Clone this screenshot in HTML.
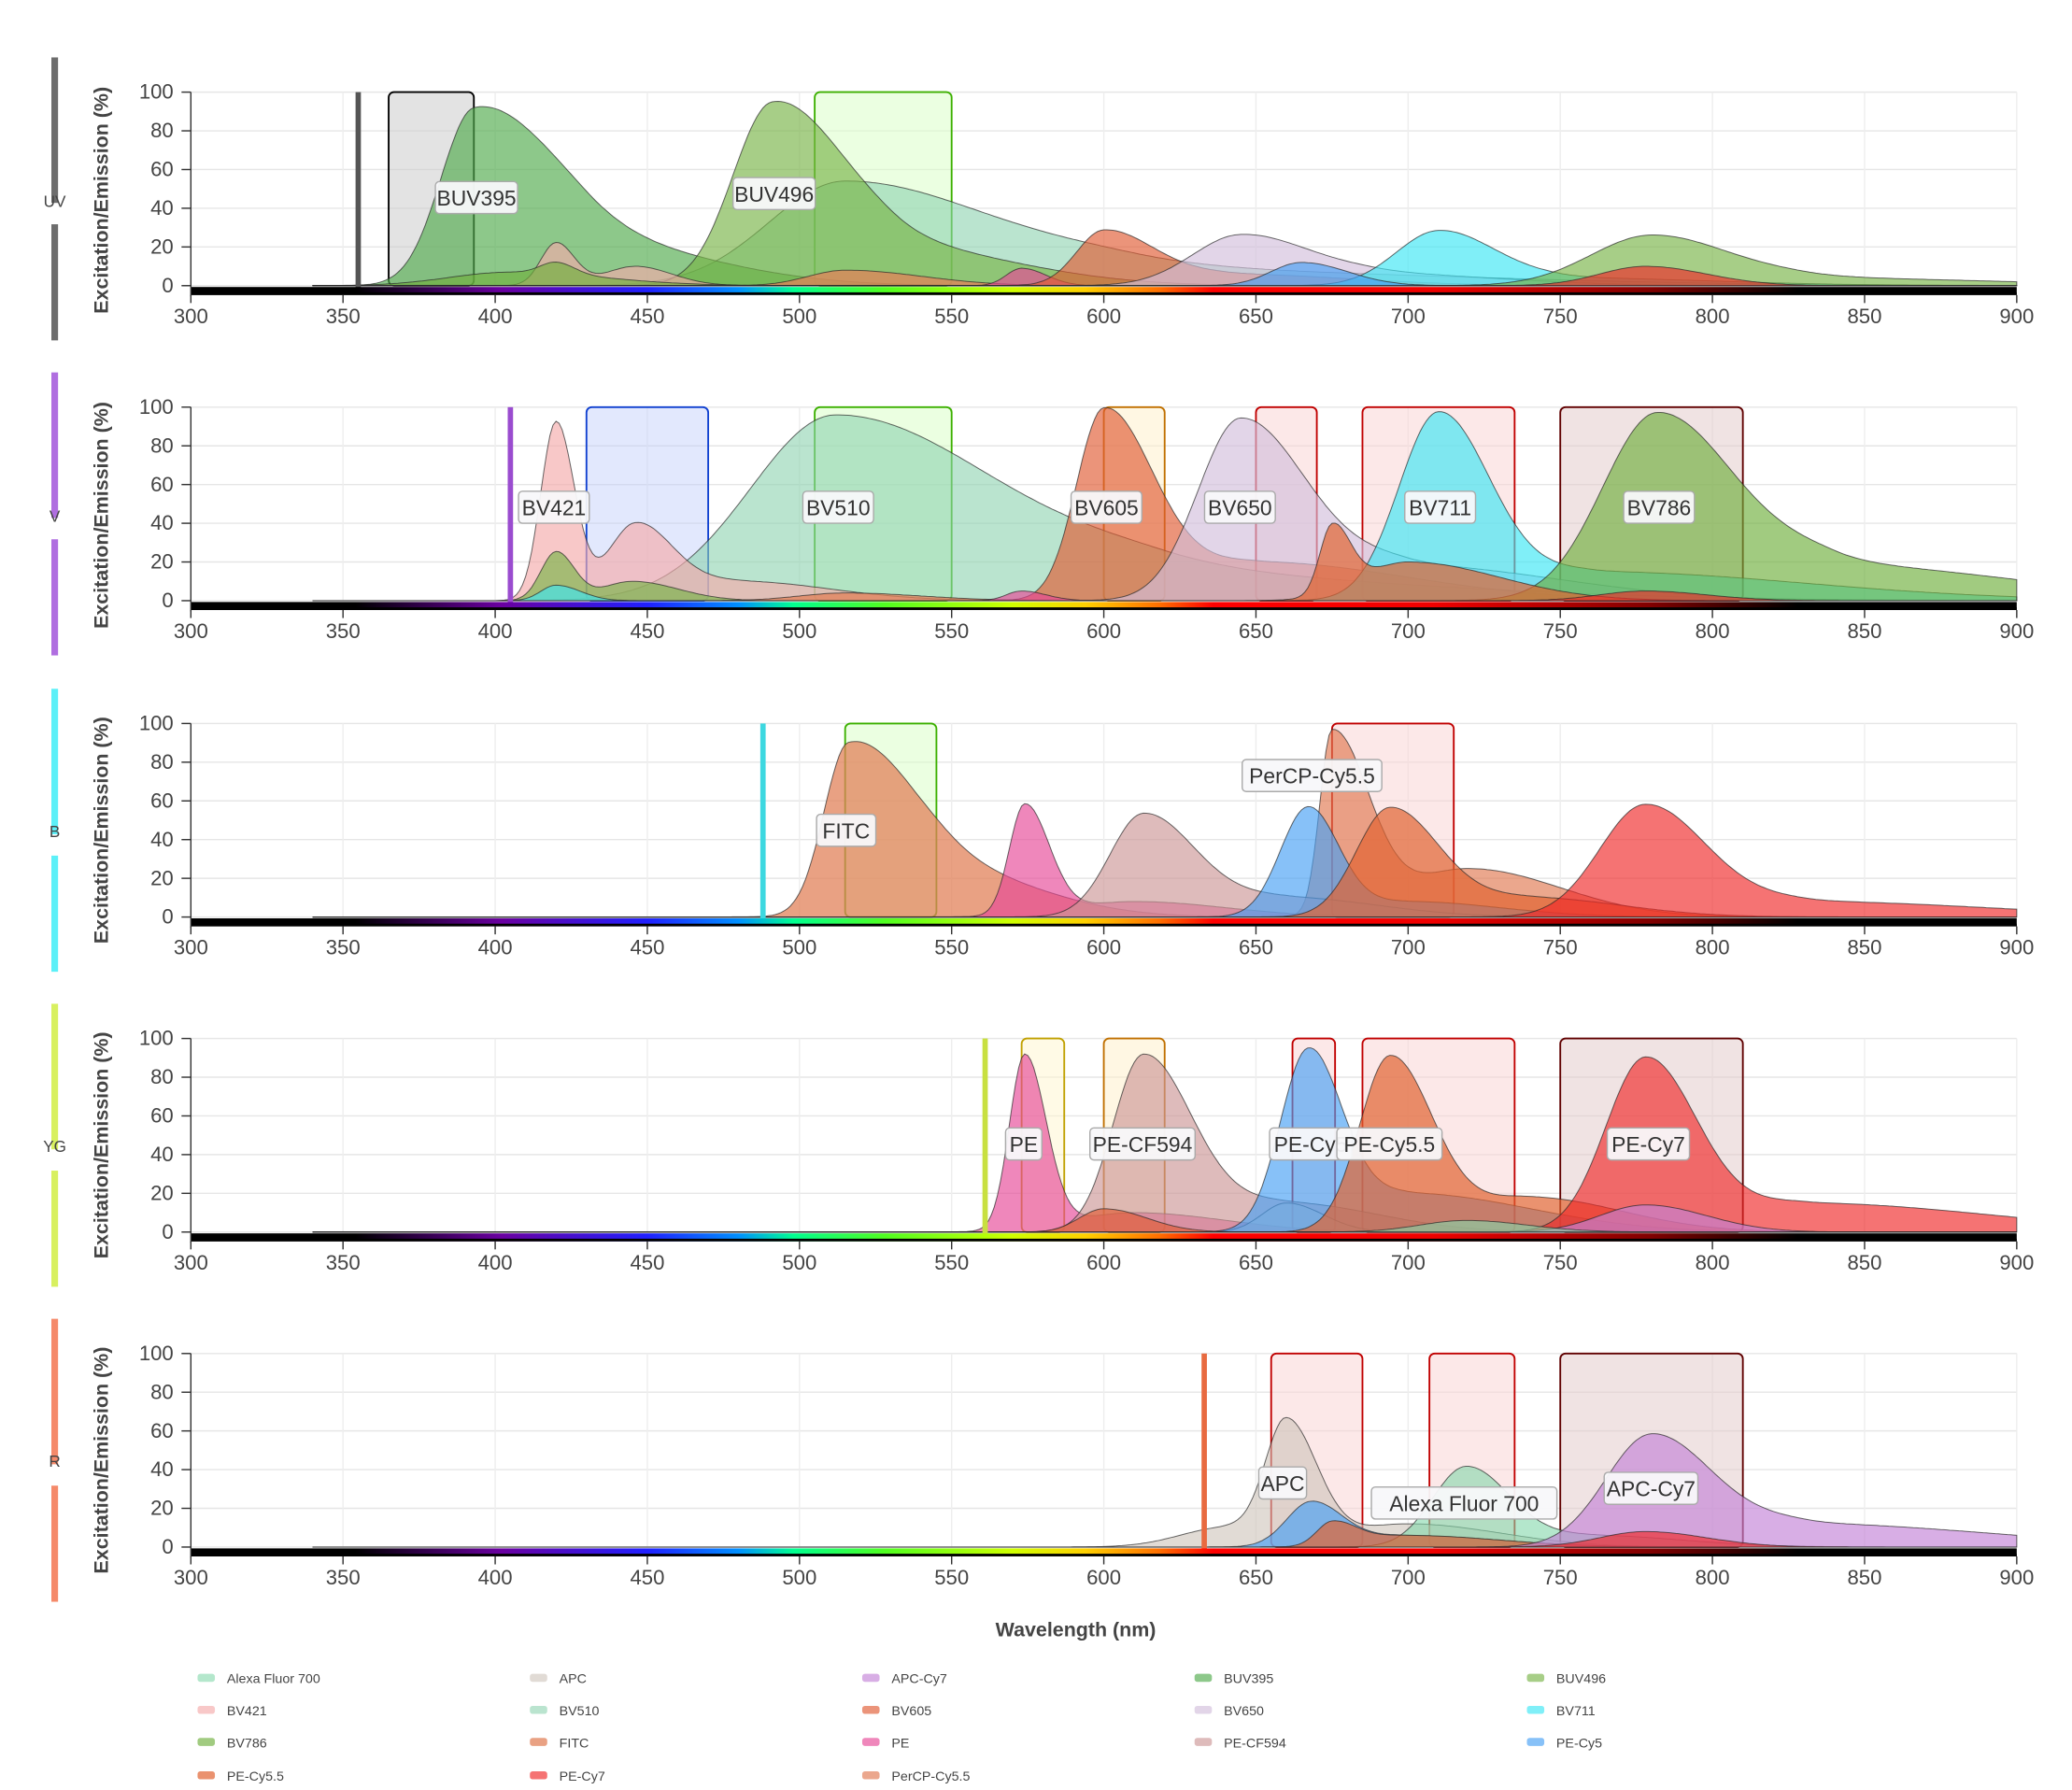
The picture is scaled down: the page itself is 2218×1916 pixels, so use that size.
<!DOCTYPE html>
<html><head><meta charset="utf-8"><style>
html,body{margin:0;padding:0;background:#fff;}
svg{display:block;font-family:"Liberation Sans",sans-serif;}
.tk{font-size:15.5px;fill:#444;}
.yt{font-size:15.5px;fill:#444;text-anchor:end;}
.lb{font-size:16px;fill:#333;text-anchor:middle;}
.lg{font-size:10px;fill:#444;}
</style></head><body>
<svg id="s" width="2218" height="1916" viewBox="0 0 1552.4 1341" xmlns="http://www.w3.org/2000/svg">
<defs>
<linearGradient id="spec" x1="143" x2="1511" gradientUnits="userSpaceOnUse">
<stop offset="0" stop-color="#000"/>
<stop offset="0.09" stop-color="#000"/>
<stop offset="0.17" stop-color="#6a00a0"/>
<stop offset="0.25" stop-color="#2020ff"/>
<stop offset="0.30" stop-color="#0090ff"/>
<stop offset="0.33" stop-color="#00ff90"/>
<stop offset="0.38" stop-color="#50ff20"/>
<stop offset="0.45" stop-color="#d0ff00"/>
<stop offset="0.49" stop-color="#ffd000"/>
<stop offset="0.53" stop-color="#ff7000"/>
<stop offset="0.56" stop-color="#ff0000"/>
<stop offset="0.68" stop-color="#f00000"/>
<stop offset="0.80" stop-color="#800000"/>
<stop offset="0.88" stop-color="#000"/>
<stop offset="1" stop-color="#000"/>
</linearGradient>
</defs>
<g id="g"></g>
<g class="lb">
<text x="81" y="150" transform="rotate(-90 81 150)" style="font-weight:bold;font-size:15px;fill:#444">Excitation/Emission (%)</text>
<text x="81" y="386" transform="rotate(-90 81 386)" style="font-weight:bold;font-size:15px;fill:#444">Excitation/Emission (%)</text>
<text x="81" y="622" transform="rotate(-90 81 622)" style="font-weight:bold;font-size:15px;fill:#444">Excitation/Emission (%)</text>
<text x="81" y="858" transform="rotate(-90 81 858)" style="font-weight:bold;font-size:15px;fill:#444">Excitation/Emission (%)</text>
<text x="81" y="1094" transform="rotate(-90 81 1094)" style="font-weight:bold;font-size:15px;fill:#444">Excitation/Emission (%)</text>
<text x="41" y="155" style="font-size:12px;fill:#444">UV</text>
<text x="41" y="391" style="font-size:12px;fill:#444">V</text>
<text x="41" y="627" style="font-size:12px;fill:#444">B</text>
<text x="41" y="863" style="font-size:12px;fill:#444">YG</text>
<text x="41" y="1099" style="font-size:12px;fill:#444">R</text>
<text x="806" y="1226" style="font-weight:bold;font-size:15px;fill:#444">Wavelength (nm)</text>
</g>
<g class="lg">
<text x="170" y="1261">Alexa Fluor 700</text><text x="419" y="1261">APC</text><text x="668" y="1261">APC-Cy7</text><text x="917" y="1261">BUV395</text><text x="1166" y="1261">BUV496</text>
<text x="170" y="1285">BV421</text><text x="419" y="1285">BV510</text><text x="668" y="1285">BV605</text><text x="917" y="1285">BV650</text><text x="1166" y="1285">BV711</text>
<text x="170" y="1309">BV786</text><text x="419" y="1309">FITC</text><text x="668" y="1309">PE</text><text x="917" y="1309">PE-CF594</text><text x="1166" y="1309">PE-Cy5</text>
<text x="170" y="1334">PE-Cy5.5</text><text x="419" y="1334">PE-Cy7</text><text x="668" y="1334">PerCP-Cy5.5</text>
</g>
</svg>
<script>
var NS="http://www.w3.org/2000/svg";
function el(t,a,p){var e=document.createElementNS(NS,t);for(var k in a)e.setAttribute(k,a[k]);(p||document.getElementById('g')).appendChild(e);return e;}
function X(nm){return 143+(nm-300)*2.28;}
var C={A7:"rgba(130,215,170,0.6)",APC:"rgba(205,195,185,0.6)",APC7:"rgba(195,130,215,0.65)",BUV395:"rgba(80,170,75,0.65)",BUV496:"rgba(120,180,70,0.65)",BV421:"rgba(245,170,170,0.65)",BV510:"rgba(140,210,175,0.6)",BV605:"rgba(225,90,50,0.65)",BV650:"rgba(210,190,220,0.65)",BV711:"rgba(60,230,245,0.65)",BV786:"rgba(110,175,60,0.65)",FITC:"rgba(225,130,90,0.75)",PE:"rgba(230,70,150,0.65)",CF:"rgba(205,150,150,0.65)",PC5:"rgba(70,160,245,0.65)",PC55:"rgba(225,100,50,0.7)",PC7:"rgba(240,40,40,0.65)",PerCP:"rgba(225,120,80,0.65)"};
function f(comps,x){var v=0;for(var i=0;i<comps.length;i++){var c=comps[i];var s=x<c[0]?c[2]:c[3];var d=(x-c[0])/s;v+=c[1]*Math.exp(-d*d/2);}return v;}
var panels=[
 {y0:214,side:"#6d6d6d",laser:355,lc:"#555",filters:[[365,393,"#000","rgba(200,200,200,0.5)"],[505,550,"#3cb000","rgba(215,255,195,0.5)"]],
  series:[["BV510",[[515,54,25,50],[610,8,30,100]]],["BUV395",[[393,88,11,24],[430,22,20,40]]],["BUV496",[[491,92,13,22],[530,20,20,40]]],["BV421",[[420,22,5,6],[446,10,10,12]]],["BV786",[[405,7,20,30],[420,6,5,6]]],["FITC",[[515,8,12,25]]],["PE",[[573,9,5,8]]],["BV605",[[600,28,9,16],[640,6,20,40]]],["BV650",[[645,26,16,22],[690,6,20,40]]],["BV711",[[710,28,14,18],[750,4,20,50]]],["BUV496",[[780,26,20,25],[830,4,20,60]]],["PC5",[[665,12,10,15]]],["PC7",[[778,10,15,20]]]],
  labels:[["BUV395",357,148],["BUV496",580,145]]},
 {y0:450,side:"#b06ee0",laser:405,lc:"#9a4ccf",filters:[[430,470,"#1040d0","rgba(190,205,250,0.45)"],[505,550,"#3cb000","rgba(215,255,195,0.5)"],[600,620,"#c07000","rgba(255,240,200,0.5)"],[650,670,"#c00000","rgba(250,210,210,0.5)"],[685,735,"#c00000","rgba(250,210,210,0.5)"],[750,810,"#600000","rgba(225,200,200,0.5)"]],
  series:[["BV510",[[512,96,28,55],[620,12,30,90]]],["BV421",[[420,92,5,6],[446,38,9,12],[480,10,20,30]]],["BUV496",[[420,25,5,6],[445,10,10,15]]],["BV711",[[420,8,5,8]]],["BV605",[[600,97,9,16],[650,20,25,50]]],["BV650",[[645,94,14,22],[700,18,20,50]]],["BV711",[[710,97,13,17],[760,15,20,70]]],["BV786",[[782,97,18,26],[840,18,20,60]]],["PC55",[[675,35,4,6],[700,20,15,30]]],["FITC",[[515,4,15,25]]],["PE",[[573,5,5,8]]],["PC7",[[778,5,15,20]]]],
  labels:[["BV421",415,380],["BV510",628,380],["BV605",829,380],["BV650",929,380],["BV711",1079,380],["BV786",1243,380]]},
 {y0:687,side:"#5cf0f8",laser:488,lc:"#3dd8e0",filters:[[515,545,"#3cb000","rgba(215,255,195,0.5)"],[675,715,"#c00000","rgba(250,210,210,0.5)"]],
  series:[["FITC",[[516,85,8,20],[550,22,20,30]]],["PerCP",[[675,95,4,12],[720,25,20,30]]],["PE",[[574,57,5,8],[610,8,20,30]]],["CF",[[613,53,11,17],[660,10,20,30]]],["PC5",[[667,55,9,10],[700,8,20,30]]],["PC55",[[694,56,11,16],[740,10,20,30]]],["PC7",[[778,58,15,20],[830,8,20,60]]]],
  labels:[["FITC",634,622],["PerCP-Cy5.5",983,581]]},
 {y0:923,side:"#d8f060",laser:561,lc:"#c8e040",filters:[[573,587,"#c0a000","rgba(255,245,205,0.5)"],[600,620,"#c07000","rgba(255,240,200,0.5)"],[662,676,"#c00000","rgba(250,210,210,0.5)"],[685,735,"#c00000","rgba(250,210,210,0.5)"],[750,810,"#600000","rgba(225,200,200,0.5)"]],
  series:[["PE",[[574,90,5,7],[610,10,20,30]]],["CF",[[613,91,10,16],[660,15,20,30]]],["APC",[[660,15,8,12]]],["PC5",[[667,90,9,11],[700,20,20,40]]],["PC55",[[694,90,10,14],[740,18,20,30]]],["PC7",[[778,90,13,17],[830,15,20,60]]],["APC7",[[778,14,15,20]]],["BV605",[[600,12,8,14]]],["A7",[[719,6,15,20]]]],
  labels:[["PE",767,857],["PE-CF594",856,857],["PE-Cy5",982,857],["PE-Cy5.5",1041,857],["PE-Cy7",1235,857]]},
 {y0:1159,side:"#f58a6a",laser:633,lc:"#e86a40",filters:[[655,685,"#c00000","rgba(250,210,210,0.5)"],[707,735,"#c00000","rgba(250,210,210,0.5)"],[750,810,"#600000","rgba(225,200,200,0.5)"]],
  series:[["APC",[[660,64,7,10],[640,10,15,10],[700,12,20,30]]],["PC5",[[668,22,8,10],[700,6,20,30]]],["A7",[[719,41,11,14],[760,6,20,30]]],["PC55",[[675,12,5,8],[700,6,15,30]]],["APC7",[[780,58,15,20],[830,12,20,60]]],["PC7",[[778,8,15,20]]]],
  labels:[["APC",961,1111],["Alexa Fluor 700",1097,1126],["APC-Cy7",1237,1115]]}
];
panels.forEach(function(P){
 var y0=P.y0,top=y0-145,k=1.45;
 for(var v=0;v<=100;v+=20){el('line',{x1:143,x2:1511,y1:y0-v*k,y2:y0-v*k,stroke:"#e6e6e6","stroke-width":1});}
 for(var n=350;n<=900;n+=50){el('line',{x1:X(n),x2:X(n),y1:top,y2:y0,stroke:"#eee","stroke-width":1});}
 el('rect',{x:38.5,y:top-26,width:5,height:212,fill:P.side});
 el('rect',{x:36,y:top+83,width:10,height:16,fill:"#fff"});
 P.filters.forEach(function(F){el('rect',{x:X(F[0]),y:top,width:X(F[1])-X(F[0]),height:145,rx:4,fill:F[3],stroke:F[2],"stroke-width":1.3});});
 P.series.forEach(function(S){
  var d="M"+X(340)+","+y0;
  for(var x=340;x<=900;x+=1){d+=" L"+X(x).toFixed(1)+","+(y0-Math.min(100,f(S[1],x))*k).toFixed(1);}
  d+=" L"+X(900)+","+y0+"Z";
  el('path',{d:d,fill:C[S[0]],stroke:"rgba(40,40,40,0.7)","stroke-width":0.7});
 });
 el('rect',{x:X(P.laser)-2,y:top,width:4,height:148,fill:P.lc});
 el('rect',{x:143,y:y0+1,width:1368,height:6,fill:"url(#spec)"});
 el('rect',{x:143,y:y0+5,width:1368,height:2,fill:"#000"});
 el('line',{x1:143,x2:143,y1:top,y2:y0+8,stroke:"#333","stroke-width":1});
 for(var v=0;v<=100;v+=20){el('line',{x1:136,x2:143,y1:y0-v*k,y2:y0-v*k,stroke:"#333"});var t=el('text',{x:130,y:y0-v*k+5,"class":"yt"});t.textContent=v;}
 for(var n=300;n<=900;n+=50){el('line',{x1:X(n),x2:X(n),y1:y0+7,y2:y0+13,stroke:"#333"});var t=el('text',{x:X(n),y:y0+28,"class":"tk","text-anchor":"middle"});t.textContent=n;}
 P.labels.forEach(function(L){
  var w=L[0].length*8.6+10;
  el('rect',{x:L[1]-w/2,y:L[2]-12,width:w,height:24,rx:3,fill:"rgba(248,248,250,0.95)",stroke:"#aaa","stroke-width":1});
  var t=el('text',{x:L[1],y:L[2]+6,"class":"lb"});t.textContent=L[0];
 });
});
var lc=[["A7","APC","APC7","BUV395","BUV496"],["BV421","BV510","BV605","BV650","BV711"],["BV786","FITC","PE","CF","PC5"],["PC55","PC7","PerCP"]];
var ly=[1257,1281,1305,1330];
lc.forEach(function(r,i){r.forEach(function(c,j){el('rect',{x:148+j*249,y:ly[i]-3,width:13,height:6,rx:2,fill:C[c]});});});
</script>
</body></html>
